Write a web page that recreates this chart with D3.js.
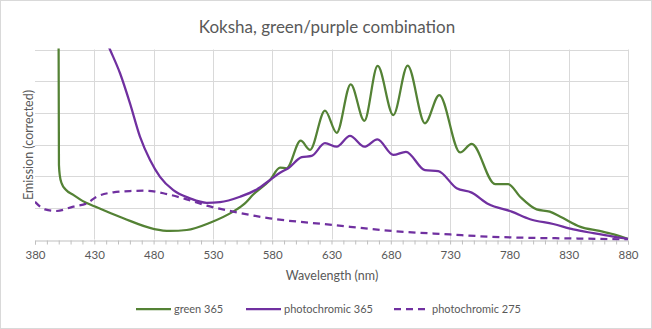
<!DOCTYPE html>
<html>
<head>
<meta charset="utf-8">
<script src="https://cdn.jsdelivr.net/npm/d3@7/dist/d3.min.js"></script>
<style>
  html, body { margin: 0; padding: 0; background: #fff; }
  svg text { font-family: Lato, "Open Sans", sans-serif; fill: #595959; }
</style>
</head>
<body>
<div id="chart"></div>
<script>
// values; y is in gridline units (arbitrary intensity)
const greenWl = [399.6, 400.2, 401, 402.5, 406, 412.3, 420, 430.6, 454.5, 480.6, 493.8, 507.9, 527.6, 547, 557, 564, 578.2, 586.6, 592.2, 604, 611.9, 624.5, 634.4, 646.2, 657.7, 668.9, 682.1, 694.2, 708.8, 720.9, 738.4, 748.2, 767.9, 779, 789, 803, 814, 823, 840, 856, 868, 880];
const greenVal = [10, 2.35, 2.0, 1.77, 1.57, 1.41, 1.22, 1.04, 0.67, 0.33, 0.27, 0.30, 0.53, 0.88, 1.14, 1.42, 1.88, 2.27, 2.25, 3.12, 2.83, 4.07, 3.37, 4.90, 3.75, 5.48, 3.93, 5.49, 3.67, 4.56, 2.75, 3.02, 1.75, 1.75, 1.35, 0.95, 0.88, 0.72, 0.40, 0.27, 0.16, 0.02];

const photo365Wl = [435, 443.2, 451.7, 460.1, 468.5, 477, 485.4, 496.6, 510.7, 524.8, 536, 552.9, 567, 578.2, 586.6, 593.6, 604.9, 613.3, 624.5, 634.4, 645.6, 657.7, 668.7, 682.1, 692.8, 708.8, 720, 735.5, 748.2, 762.2, 781.9, 797.4, 817, 833.9, 850.8, 867.6, 880];
const photo365Val = [6.7, 6.0, 5.25, 4.30, 3.25, 2.51, 1.98, 1.56, 1.30, 1.16, 1.18, 1.35, 1.58, 1.88, 2.11, 2.25, 2.60, 2.64, 3.04, 2.93, 3.27, 2.93, 3.16, 2.67, 2.77, 2.19, 2.16, 1.62, 1.48, 1.12, 0.88, 0.64, 0.49, 0.32, 0.20, 0.09, 0.02];

const photo275Wl = [380, 388.4, 398.3, 412.3, 423.6, 432, 446, 460, 474.2, 488.2, 505, 524.8, 547, 578, 631, 681, 730, 762, 800, 840, 880];
const photo275Val = [1.19, 0.95, 0.90, 1.04, 1.14, 1.35, 1.49, 1.53, 1.54, 1.46, 1.30, 1.07, 0.88, 0.67, 0.46, 0.27, 0.16, 0.09, 0.05, 0.03, 0.0];

const xTicks = [380, 430, 480, 530, 580, 630, 680, 730, 780, 830, 880];
const yTicks = [0, 1, 2, 3, 4, 5, 6];

const seriesNames = ['green 365', 'photochromic 365', 'photochromic 275'];
const seriesColors = ['#548235', '#7030a0', '#7030a0'];
const seriesDash = [null, null, '7,5'];

const W = 652, H = 329;
const margin = { top: 49.5, right: 24, bottom: 89.5, left: 35 };

const svg = d3.select('#chart').append('svg')
  .attr('width', W).attr('height', H);

svg.append('rect')
  .attr('x', 0.5).attr('y', 0.5)
  .attr('width', W - 1).attr('height', H - 1)
  .attr('fill', '#fff').attr('stroke', '#d9d9d9');

const x = d3.scaleLinear().domain([380, 880]).range([margin.left, W - margin.right]);
const y = d3.scaleLinear().domain([0, 6]).range([H - margin.bottom, margin.top]);

// gridlines
svg.append('g').attr('class', 'grid-y')
  .selectAll('line').data(yTicks.slice(1)).join('line')
  .attr('x1', x(380)).attr('x2', x(880))
  .attr('y1', d => Math.round(y(d)) + 0.5).attr('y2', d => Math.round(y(d)) + 0.5)
  .attr('stroke', '#d9d9d9');
svg.append('g').attr('class', 'grid-x')
  .selectAll('line').data(xTicks.slice(1)).join('line')
  .attr('x1', d => Math.round(x(d)) + 0.5).attr('x2', d => Math.round(x(d)) + 0.5)
  .attr('y1', y(6)).attr('y2', y(0))
  .attr('stroke', '#d9d9d9');

// x axis with 10 nm minor ticks
const xAxis = d3.axisBottom(x)
  .tickValues(d3.range(380, 881, 10))
  .tickSize(4)
  .tickFormat(d => xTicks.includes(d) ? d : '');
const gx = svg.append('g')
  .attr('transform', `translate(0,${Math.round(y(0)) + 0.5})`)
  .call(xAxis);
gx.select('.domain').attr('stroke', '#bfbfbf');
gx.selectAll('.tick line').attr('stroke', '#bfbfbf');
gx.selectAll('.tick text')
  .attr('dy', null).attr('y', 18)
  .style('font-size', '11.5px');

// series
svg.append('clipPath').attr('id', 'plot-clip')
  .append('rect')
  .attr('x', x(380)).attr('y', y(6) - 1)
  .attr('width', x(880) - x(380)).attr('height', y(0) - y(6) + 2);

const series = [
  greenWl.map((w, i) => [w, greenVal[i]]),
  photo365Wl.map((w, i) => [w, photo365Val[i]]),
  photo275Wl.map((w, i) => [w, photo275Val[i]])
];

const line = d3.line()
  .x(d => x(d[0]))
  .y(d => y(d[1]))
  .curve(d3.curveMonotoneX);

svg.append('g').attr('clip-path', 'url(#plot-clip)')
  .selectAll('path').data(series).join('path')
  .attr('d', line)
  .attr('fill', 'none')
  .attr('stroke', (d, i) => seriesColors[i])
  .attr('stroke-width', 2.25)
  .attr('stroke-linejoin', 'round')
  .attr('stroke-dasharray', (d, i) => seriesDash[i]);

// titles
svg.append('text')
  .attr('x', 327).attr('y', 33)
  .attr('text-anchor', 'middle')
  .style('font-size', '17px')
  .text('Koksha, green/purple combination');

svg.append('text')
  .attr('x', 332).attr('y', 280)
  .attr('text-anchor', 'middle')
  .style('font-size', '12.5px')
  .text('Wavelength (nm)');

svg.append('text')
  .attr('transform', 'translate(33,145) rotate(-90)')
  .attr('text-anchor', 'middle')
  .style('font-size', '12.5px')
  .text('Emission (corrected)');

// legend
const legendX = [136, 246, 394];
const leg = svg.append('g').selectAll('g').data(seriesNames).join('g')
  .attr('transform', (d, i) => `translate(${legendX[i]},309)`);
leg.append('line')
  .attr('x1', 0).attr('x2', 35)
  .attr('stroke', (d, i) => seriesColors[i])
  .attr('stroke-width', 2.25)
  .attr('stroke-dasharray', (d, i) => seriesDash[i]);
leg.append('text')
  .attr('x', 38).attr('y', 4)
  .style('font-size', '11px')
  .text(d => d);
</script>
</body>
</html>
